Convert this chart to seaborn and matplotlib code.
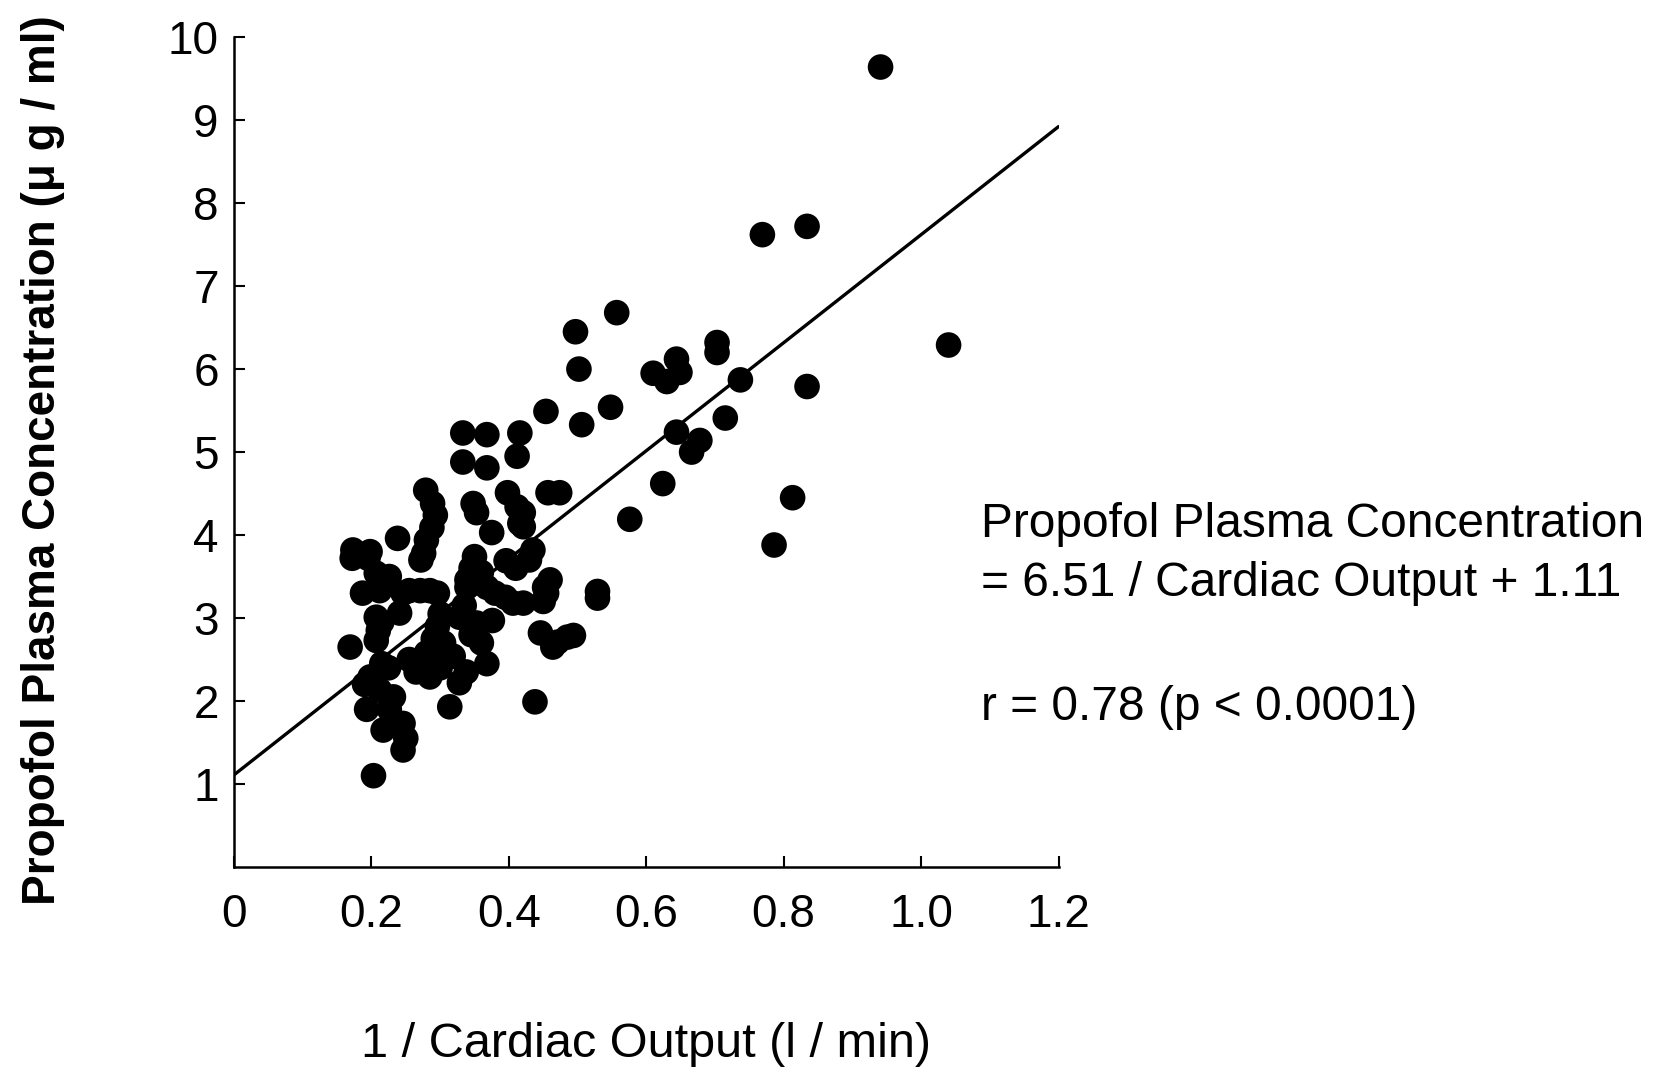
import numpy as np
import pandas as pd
import matplotlib
matplotlib.use("Agg")
import matplotlib.pyplot as plt
import seaborn as sns

# values
inv_cardiac_output = [
    0.173, 0.198, 0.172, 0.195, 0.207, 0.226, 0.238, 0.187, 0.212, 0.246,
    0.207, 0.241, 0.215, 0.169, 0.207, 0.210, 0.215, 0.225, 0.198, 0.212,
    0.190, 0.193, 0.226, 0.232, 0.217, 0.246, 0.246, 0.250, 0.203,
    0.255, 0.271, 0.285, 0.296, 0.279, 0.289, 0.293, 0.288, 0.280, 0.276,
    0.272, 0.255, 0.280, 0.285, 0.265, 0.296, 0.300, 0.290, 0.305, 0.312,
    0.319, 0.314, 0.300,
    0.333, 0.368, 0.333, 0.368, 0.348, 0.353, 0.375, 0.350, 0.345, 0.339,
    0.358, 0.339, 0.368, 0.360, 0.328, 0.353, 0.376, 0.335, 0.345, 0.360,
    0.368, 0.328, 0.338, 0.380,
    0.398, 0.412, 0.416, 0.421, 0.421, 0.416, 0.412, 0.396, 0.410, 0.435,
    0.430, 0.406, 0.421, 0.395, 0.438,
    0.454, 0.457, 0.474, 0.452, 0.460, 0.455, 0.450, 0.446, 0.471, 0.464,
    0.494, 0.485,
    0.497, 0.502, 0.506, 0.548, 0.557, 0.529, 0.529, 0.576, 0.610, 0.630,
    0.644, 0.649, 0.624, 0.644, 0.666, 0.678, 0.703, 0.703, 0.715, 0.737,
    0.769, 0.834, 0.834, 0.813, 0.786, 0.941, 1.040,
]
propofol_conc = [
    3.82, 3.80, 3.72, 3.72, 3.54, 3.50, 3.96, 3.30, 3.33, 3.30,
    3.01, 3.06, 2.95, 2.65, 2.73, 2.85, 2.45, 2.40, 2.29, 2.13,
    2.20, 1.90, 1.90, 2.05, 1.65, 1.73, 1.41, 1.55, 1.10,
    3.33, 3.33, 3.33, 3.30, 4.54, 4.38, 4.24, 4.09, 3.94, 3.78,
    3.70, 2.50, 2.58, 2.29, 2.35, 2.90, 3.05, 2.75, 2.70, 2.55,
    2.54, 1.93, 2.40,
    5.23, 5.21, 4.88, 4.81, 4.38, 4.27, 4.03, 3.74, 3.60, 3.46,
    3.42, 3.37, 3.37, 3.55, 3.01, 2.94, 2.97, 3.15, 2.80, 2.70,
    2.45, 2.22, 2.35, 3.30,
    4.51, 4.34, 4.14, 4.27, 4.10, 5.23, 4.95, 3.69, 3.60, 3.82,
    3.70, 3.18, 3.18, 3.25, 1.99,
    5.49, 4.51, 4.51, 3.37, 3.46, 3.30, 3.20, 2.82, 2.71, 2.65,
    2.79, 2.77,
    6.45, 6.00, 5.33, 5.54, 6.68, 3.32, 3.24, 4.19, 5.95, 5.85,
    6.12, 5.96, 4.62, 5.24, 5.00, 5.14, 6.32, 6.20, 5.41, 5.87,
    7.62, 7.72, 5.79, 4.45, 3.88, 9.64, 6.29,
]

# fitted line given in the chart
slope = 6.51
intercept = 1.11
line_x = [0.0, 1.2]

x_ticks = [0, 0.2, 0.4, 0.6, 0.8, 1.0, 1.2]
x_tick_labels = ["0", "0.2", "0.4", "0.6", "0.8", "1.0", "1.2"]
y_ticks = [1, 2, 3, 4, 5, 6, 7, 8, 9, 10]

df = pd.DataFrame({"x": inv_cardiac_output, "y": propofol_conc})
fit = pd.DataFrame({"x": line_x})
fit["y"] = slope * fit["x"] + intercept

sns.set_theme(style="ticks")
plt.rcParams["font.family"] = ["Liberation Sans", "DejaVu Sans"]
plt.rcParams["text.color"] = "black"
plt.rcParams["axes.labelcolor"] = "black"

fig = plt.figure(figsize=(16.68, 10.71), dpi=100)
ax = fig.add_axes([0.1403, 0.1905, 0.4943, 0.7748])

sns.lineplot(data=fit, x="x", y="y", ax=ax, color="black", linewidth=2.4)
sns.scatterplot(data=df, x="x", y="y", ax=ax, color="black", s=340,
                edgecolor="none", linewidth=0, clip_on=False, zorder=3)

ax.set_xlim(0, 1.2)
ax.set_ylim(0, 10)
ax.set_xticks(x_ticks)
ax.set_xticklabels(x_tick_labels)
ax.set_yticks(y_ticks)
ax.tick_params(axis="both", direction="in", length=8, width=1.5,
               color="black", labelsize=33, labelcolor="black")
ax.tick_params(axis="x", pad=19)
ax.tick_params(axis="y", pad=11)
sns.despine(ax=ax)
for side in ["left", "bottom"]:
    ax.spines[side].set_linewidth(1.8)
    ax.spines[side].set_color("black")

ax.set_xlabel("1 / Cardiac Output (l / min)", fontsize=35, va="center")
ax.xaxis.set_label_coords(0.5, -0.214)
ax.set_ylabel("Propofol Plasma Concentration (μ g / ml)", fontsize=33,
              fontweight="bold", va="center")
ax.yaxis.set_label_coords(-0.232, 0.49)

fig.text(0.588, 0.510, "Propofol Plasma Concentration", fontsize=34.5,
         ha="left", va="center")
fig.text(0.588, 0.4555, "= 6.51 / Cardiac Output + 1.11", fontsize=34.5,
         ha="left", va="center")
fig.text(0.588, 0.3397, "r = 0.78 (p < 0.0001)", fontsize=34.5,
         ha="left", va="center")

fig.savefig("out.png", dpi=100, facecolor="white")
